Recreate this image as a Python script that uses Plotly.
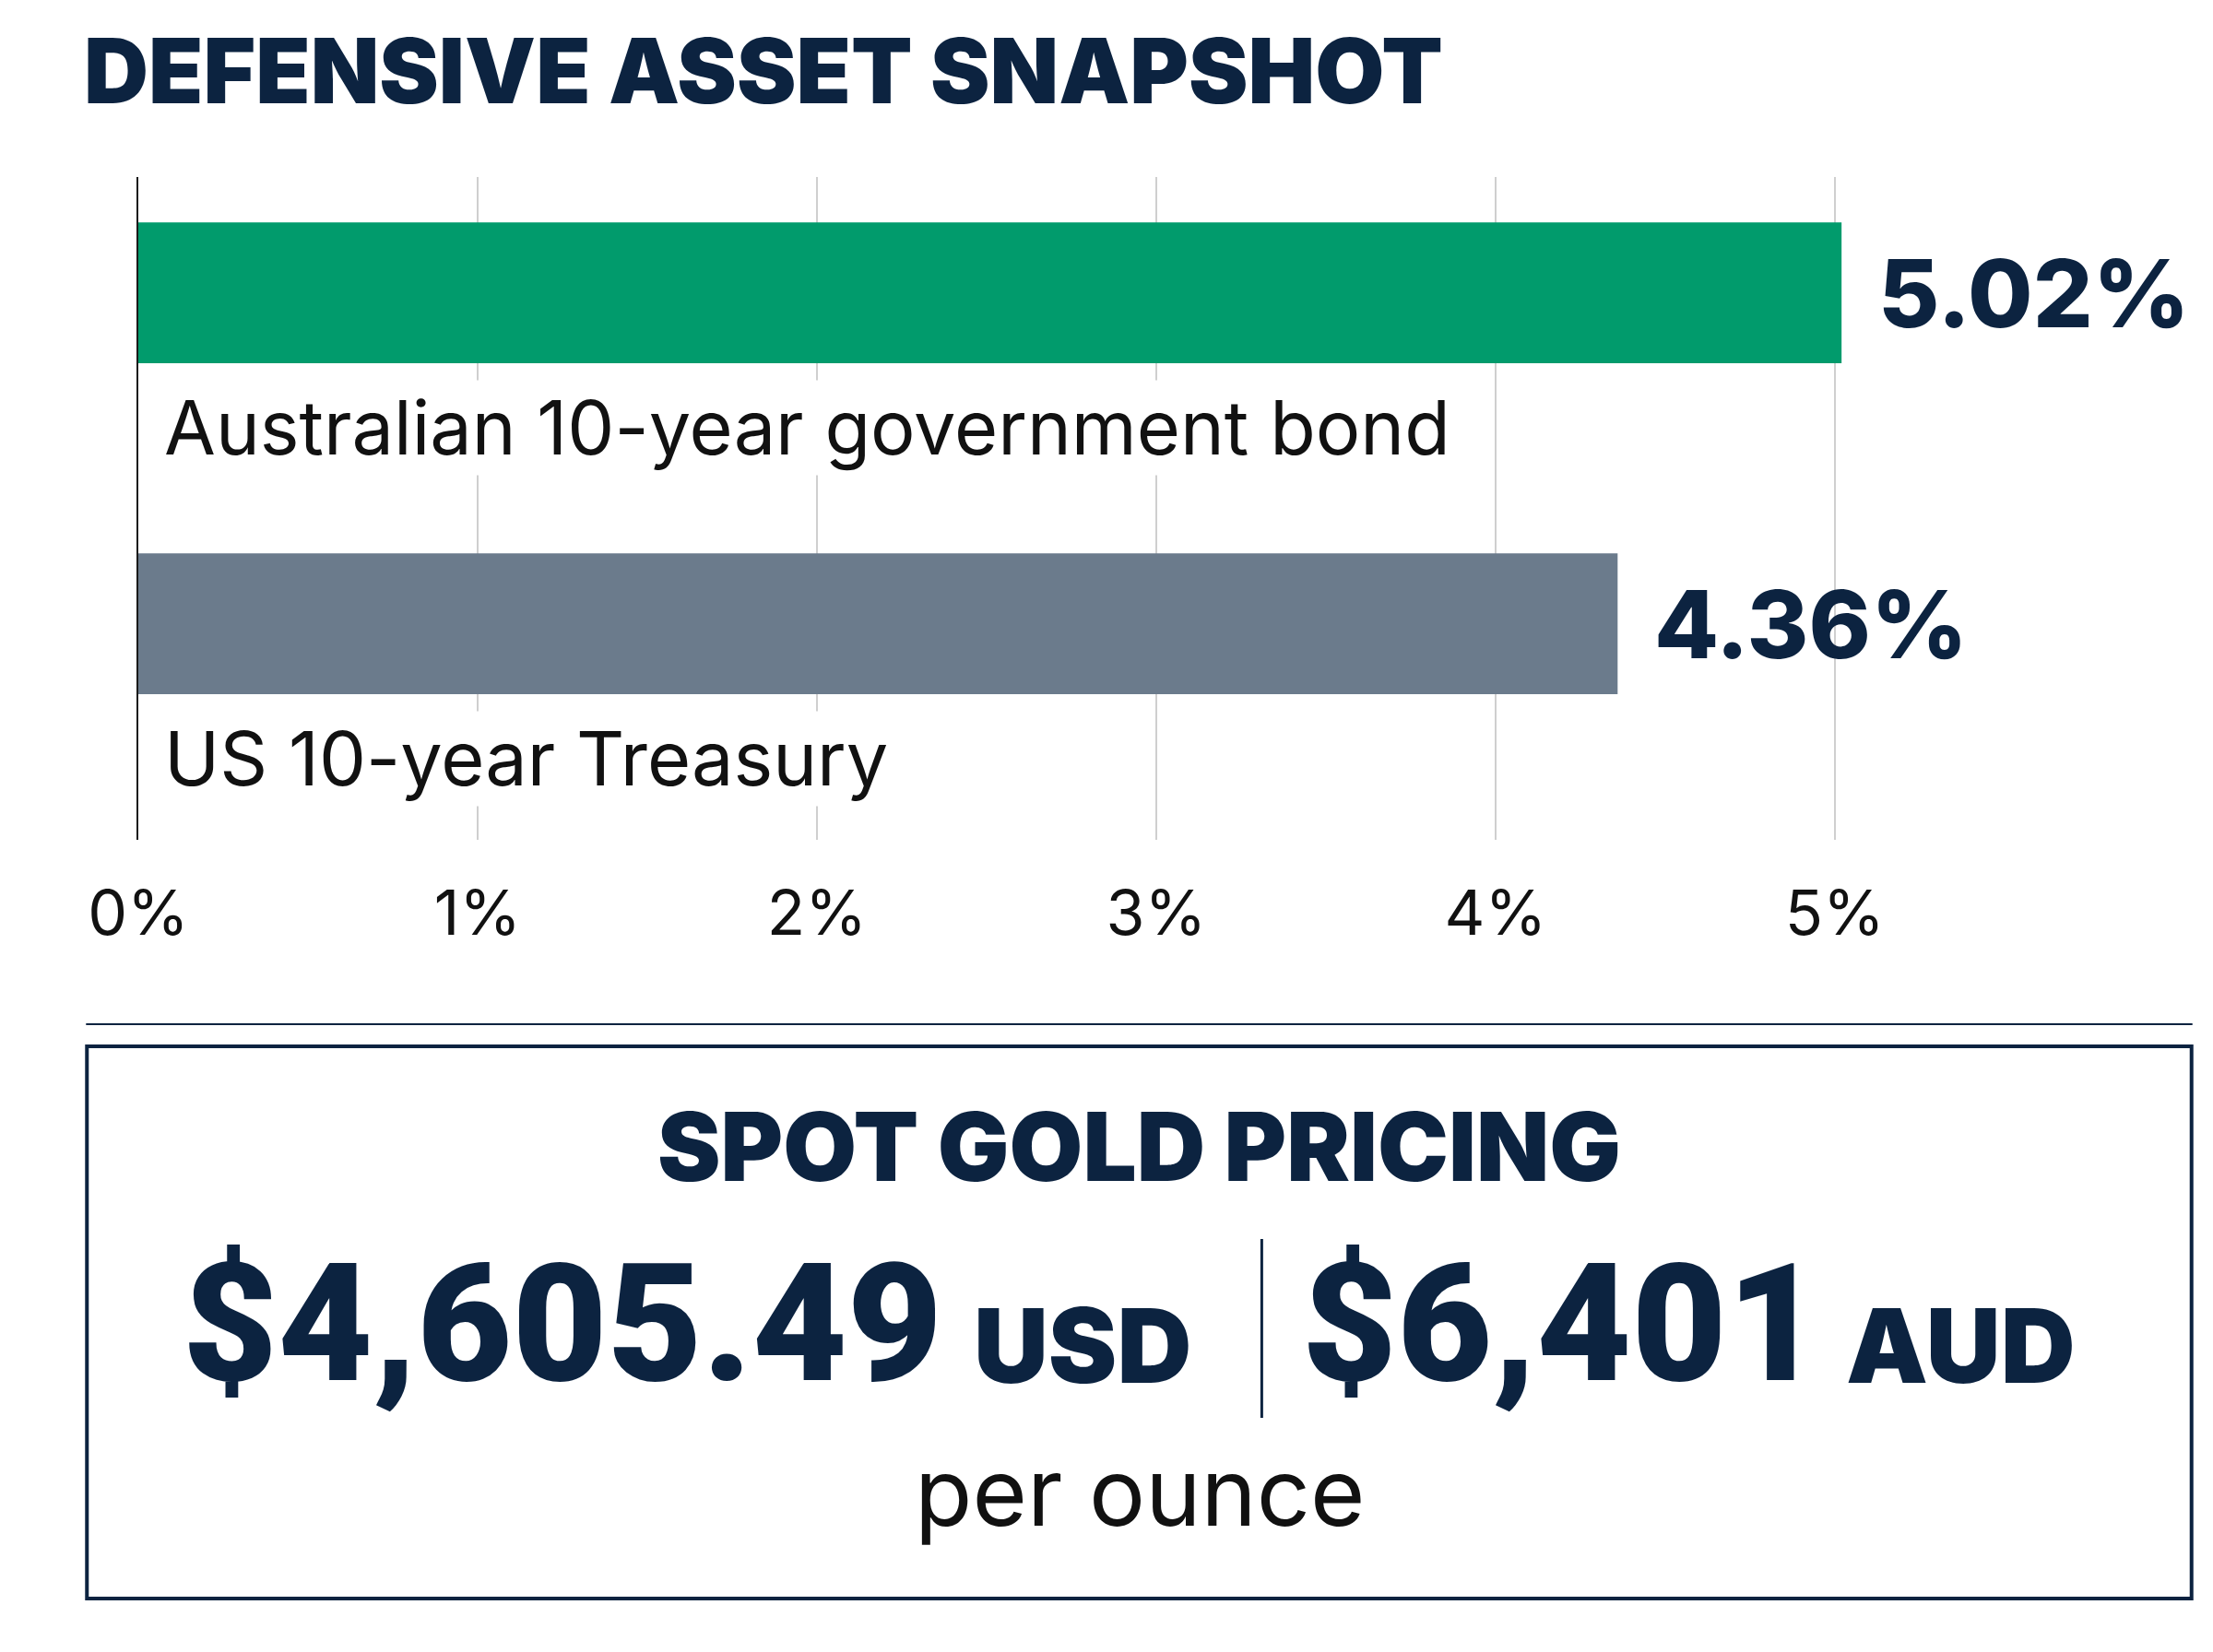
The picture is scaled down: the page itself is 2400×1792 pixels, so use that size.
import plotly.graph_objects as go

# ---- data ----
categories = ["US 10-year Treasury", "Australian 10-year government bond"]
yields_pct = [4.36, 5.02]
bar_colors = ["#6b7b8c", "#019b6c"]
tick_values = [0, 1, 2, 3, 4, 5]
tick_labels = ["0%", "1%", "2%", "3%", "4%", "5%"]

title_text = "DEFENSIVE ASSET SNAPSHOT"
gold_title = "SPOT GOLD PRICING"
gold_usd = "$4,605.49"
gold_aud = "$6,401"
unit_usd = "USD"
unit_aud = "AUD"
per_unit = "per ounce"

NAVY = "#0c2340"
W, H = 2400, 1792
FONT = "Inter"
NUMFONT = "Roboto"


def py(px):
    """convert top-origin pixel to paper y"""
    return 1 - px / H


def pxx(px):
    return px / W


fig = go.Figure()
fig.add_trace(go.Bar(
    x=yields_pct,
    y=categories,
    orientation="h",
    marker=dict(color=bar_colors, line=dict(width=0)),
    width=0.426,
    hoverinfo="skip",
))

annotations = []
# category labels beneath bars
for cat in categories:
    annotations.append(dict(
        x=0, y=cat, xref="x", yref="y", xanchor="left", yanchor="middle",
        xshift=25, yshift=-146, text=cat, showarrow=False,
        font=dict(family=FONT, size=81, color="#111111"),
        bgcolor="white", borderpad=2,
    ))
# value labels
for cat, v in zip(categories, yields_pct):
    annotations.append(dict(
        x=v, y=cat, xref="x", yref="y", xanchor="left", yanchor="middle",
        xshift=38, yshift=0, text=f"{v:.2f}%", showarrow=False,
        font=dict(family=FONT, size=102, color=NAVY, weight=800),
    ))

# title
annotations.append(dict(
    x=pxx(27), y=py(68), xref="paper", yref="paper", xanchor="left", yanchor="middle",
    text=title_text, showarrow=False,
    font=dict(family=FONT, size=97, color=NAVY, weight=900),
))
# gold box texts
annotations.append(dict(
    x=0.5, y=py(1235), xref="paper", yref="paper", xanchor="center", yanchor="middle",
    text=gold_title, showarrow=False,
    font=dict(family=FONT, size=103, color=NAVY, weight=900),
))
annotations.append(dict(
    x=pxx(984), y=py(1428), xref="paper", yref="paper", xanchor="right", yanchor="middle",
    text=gold_usd, showarrow=False,
    font=dict(family=NUMFONT, size=178, color=NAVY, weight=900),
))
annotations.append(dict(
    x=pxx(1014), y=py(1451), xref="paper", yref="paper", xanchor="left", yanchor="middle",
    text=unit_usd, showarrow=False,
    font=dict(family=FONT, size=112, color=NAVY, weight=900),
))
annotations.append(dict(
    x=pxx(1960), y=py(1428), xref="paper", yref="paper", xanchor="right", yanchor="middle",
    text=gold_aud, showarrow=False,
    font=dict(family=NUMFONT, size=178, color=NAVY, weight=900),
))
annotations.append(dict(
    x=pxx(1982), y=py(1451), xref="paper", yref="paper", xanchor="left", yanchor="middle",
    text=unit_aud, showarrow=False,
    font=dict(family=FONT, size=112, color=NAVY, weight=900),
))
annotations.append(dict(
    x=0.5, y=py(1610), xref="paper", yref="paper", xanchor="center", yanchor="middle",
    text=per_unit, showarrow=False,
    font=dict(family=FONT, size=102, color="#111111"),
))

shapes = [
    # separator line
    dict(type="line", xref="paper", yref="paper", x0=pxx(31), x1=pxx(2369),
         y0=py(1103), y1=py(1103), line=dict(color=NAVY, width=2)),
    # gold box
    dict(type="rect", xref="paper", yref="paper", x0=pxx(32), x1=pxx(2368),
         y0=py(1127), y1=py(1726), line=dict(color=NAVY, width=4)),
    # divider between prices
    dict(type="line", xref="paper", yref="paper", x0=pxx(1336), x1=pxx(1336),
         y0=py(1336), y1=py(1530), line=dict(color=NAVY, width=3)),
]

fig.update_layout(
    width=W, height=H,
    margin=dict(l=0, r=0, t=0, b=0),
    paper_bgcolor="white", plot_bgcolor="white",
    showlegend=False,
    annotations=annotations,
    shapes=shapes,
    xaxis=dict(
        domain=[89 / W, 1.0], range=[0, (W - 89) / 376.6],
        tickvals=tick_values, ticktext=tick_labels,
        showgrid=True, gridcolor="#cfcfcf", gridwidth=2,
        zeroline=False, showline=False, ticks="",
        ticklabelstandoff=34,
        tickfont=dict(family=FONT, size=68, color="#111111"),
        fixedrange=True,
    ),
    yaxis=dict(
        domain=[py(903), py(184)],
        type="category", categoryorder="array", categoryarray=categories,
        range=[-0.653, 1.35],
        showticklabels=False, showgrid=False, zeroline=False,
        showline=True, linecolor="#1a1a1a", linewidth=2, ticks="",
        fixedrange=True,
    ),
)

fig.write_html("out.html")
